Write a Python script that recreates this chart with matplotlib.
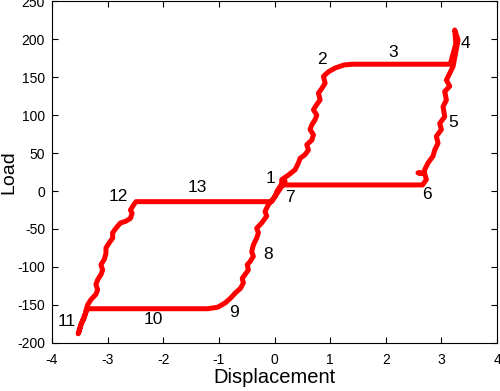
import matplotlib
matplotlib.use("Agg")
import matplotlib.pyplot as plt

plt.rcParams['font.family'] = ['Liberation Sans', 'DejaVu Sans']
plt.rcParams['axes.unicode_minus'] = False

# loop path, segment by segment (displacement, load)
seg_1_2 = [(0.01, -7), (0.13, 6), (0.13, 15), (0.25, 21), (0.37, 28), (0.43, 37), (0.46, 43),
           (0.55, 48), (0.61, 54), (0.58, 61), (0.67, 67), (0.70, 74), (0.64, 81), (0.67, 87),
           (0.73, 94), (0.76, 100), (0.70, 107), (0.76, 114), (0.82, 120), (0.79, 129), (0.85, 135),
           (0.91, 142), (0.88, 151), (0.97, 157), (1.09, 162), (1.25, 166), (1.40, 167)]
seg_3_4 = [(3.16, 167), (3.26, 194), (3.24, 212), (3.30, 199), (3.21, 164)]
seg_5_6 = [(3.15, 155), (3.09, 146), (3.15, 138), (3.06, 131), (3.09, 120), (3.03, 111), (3.06, 98),
           (2.97, 89), (3.00, 81), (2.91, 72), (2.94, 63), (2.88, 54), (2.85, 46), (2.76, 37),
           (2.70, 28), (2.68, 23), (2.58, 24), (2.70, 23), (2.73, 15), (2.66, 8)]
seg_7_8 = [(0.15, 8), (0.19, 13), (0.10, 6), (0.04, -1), (0.01, -7), (-0.11, -18), (-0.17, -27),
           (-0.14, -33), (-0.23, -42), (-0.32, -49), (-0.29, -55), (-0.32, -62), (-0.38, -71),
           (-0.41, -80), (-0.38, -86), (-0.44, -93), (-0.49, -97), (-0.47, -104), (-0.53, -110),
           (-0.58, -115), (-0.56, -121), (-0.61, -128)]
seg_9_11 = [(-0.70, -134), (-0.79, -141), (-0.88, -147), (-1.02, -153), (-1.20, -155), (-3.36, -155),
            (-3.42, -165), (-3.48, -176), (-3.53, -188)]
seg_12_13 = [(-3.51, -185), (-3.48, -176), (-3.42, -167), (-3.39, -158), (-3.36, -150), (-3.30, -143),
             (-3.21, -136), (-3.18, -130), (-3.21, -123), (-3.18, -117), (-3.12, -110), (-3.09, -104),
             (-3.12, -97), (-3.06, -90), (-3.03, -82), (-3.03, -75), (-2.97, -68), (-2.91, -62),
             (-2.91, -55), (-2.85, -49), (-2.77, -42), (-2.68, -40), (-2.59, -36), (-2.56, -29),
             (-2.59, -25), (-2.53, -18), (-2.49, -14), (-0.05, -14), (0.01, -7)]

path = seg_1_2 + seg_3_4 + seg_5_6 + seg_7_8 + seg_9_11 + seg_12_13
disp = [p[0] for p in path]
load = [p[1] for p in path]

# point numbers
lbl_text = ['1', '2', '3', '4', '5', '6', '7', '8', '9', '10', '11', '12', '13']
lbl_x = [-0.08, 0.85, 2.13, 3.44, 3.22, 2.74, 0.28, -0.11, -0.72, -2.17, -3.73, -2.80, -1.38]
lbl_y = [17, 173, 183, 194, 90, -4, -9, -84, -160, -169, -172, -7, 4]

fig = plt.figure(figsize=(5, 3.91), dpi=100)
ax = fig.add_axes([0.104, 0.123, 0.890, 0.874])
ax.plot(disp, load, color='red', lw=3.6, solid_joinstyle='round', solid_capstyle='round')

for t, x, y in zip(lbl_text, lbl_x, lbl_y):
    ax.text(x, y, t, fontsize=12.5, ha='center', va='center')

ax.set_xlim(-4, 4)
ax.set_ylim(-200, 250)
ax.set_xticks(range(-4, 5))
ax.set_yticks(range(-200, 251, 50))
ax.tick_params(direction='in', top=True, right=True, length=4, labelsize=10)
ax.tick_params(axis='x', pad=7)
ax.tick_params(axis='y', pad=5)
ax.set_xlabel('Displacement', fontsize=14.5, labelpad=1)
ax.set_ylabel('Load', fontsize=14, labelpad=0)

plt.savefig('out.png', dpi=100)
